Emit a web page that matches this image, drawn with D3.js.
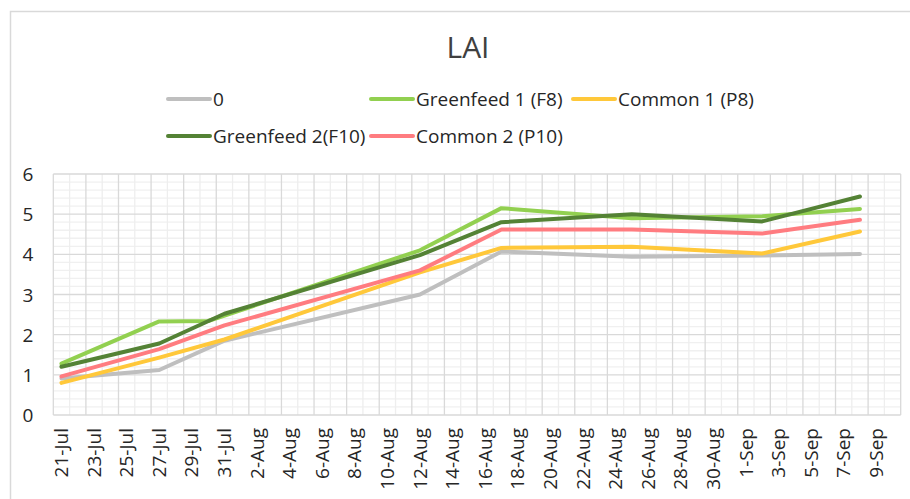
<!DOCTYPE html>
<html>
<head>
<meta charset="utf-8">
<script src="https://cdn.jsdelivr.net/npm/d3@7"></script>
<style>
  body { margin: 0; background: #fff; }
  text { font-family: "Open Sans", sans-serif; }
</style>
</head>
<body>
<div id="canvas"></div>
<script>
const canvas = d3.select("#canvas");

// sampling dates (day-month) and LAI per treatment, null = not measured
const dates = ["21-Jul", "27-Jul", "30-Jul", "31-Jul", "12-Aug", "17-Aug", "25-Aug", "2-Sep", "8-Sep"];
const control    = [0.91, 1.12, null, 1.85, 3.00, 4.07, 3.94, 3.97, 4.01];
const greenfeed1 = [1.28, 2.33, 2.34, null, 4.10, 5.15, 4.90, 4.95, 5.13];
const common1    = [0.80, 1.43, null, 1.88, 3.55, 4.16, 4.19, 4.02, 4.57];
const greenfeed2 = [1.20, 1.78, null, 2.52, 3.98, 4.80, 5.00, 4.82, 5.44];
const common2    = [0.96, 1.64, null, 2.23, 3.60, 4.62, 4.62, 4.52, 4.86];

const seriesNames = ["0", "Greenfeed 1 (F8)", "Common 1 (P8)", "Greenfeed 2(F10)", "Common 2 (P10)"];
const seriesValues = [control, greenfeed1, common1, greenfeed2, common2];
const colors = ["#BFBFBF", "#92D050", "#FFC83A", "#548235", "#FF7C80"];
const yTicks = [0, 1, 2, 3, 4, 5, 6];

const width = 910;
const height = 499;
const margin = { top: 174, left: 53.3, bottom: 84, right: 9.3 };
const iwidth = width - margin.left - margin.right;
const iheight = height - margin.top - margin.bottom;

const svg = canvas.append("svg")
    .attr("width", width)
    .attr("height", height);

// chart border
svg.append("rect")
    .attr("x", 10.5).attr("y", 11.5)
    .attr("width", 1000).attr("height", 1000)
    .attr("fill", "none")
    .attr("stroke", "#d9d9d9")
    .attr("stroke-width", 1.5);

svg.append("text")
    .attr("x", 468)
    .attr("y", 46)
    .attr("text-anchor", "middle")
    .attr("dominant-baseline", "central")
    .style("font-size", "30px")
    .style("fill", "#404040")
    .text("LAI");

// every day from 21-Jul to 10-Sep is one slot on the axis
const fmt = d3.timeFormat("%-d-%b");
const days = d3.timeDay.range(new Date(2020, 6, 21), new Date(2020, 8, 11)).map(fmt);

const x = d3.scaleBand()
    .domain(days)
    .range([0, iwidth])
    .padding(0);

const y = d3.scaleLinear()
    .domain([0, 6])
    .range([iheight, 0]);

const g = svg.append("g").attr("transform", `translate(${margin.left},${margin.top})`);

// minor gridlines
g.append("g").selectAll("line")
    .data(d3.range(0, 6, 0.2).filter(v => Math.abs(v - Math.round(v)) > 0.01))
    .enter().append("line")
    .attr("x1", 0).attr("x2", iwidth)
    .attr("y1", d => y(d)).attr("y2", d => y(d))
    .attr("stroke", "#f0f0f0").attr("stroke-width", 1.3);

g.append("g").selectAll("line")
    .data(d3.range(days.length + 1).filter(i => i % 2 === 1))
    .enter().append("line")
    .attr("x1", i => i * x.step()).attr("x2", i => i * x.step())
    .attr("y1", 0).attr("y2", iheight)
    .attr("stroke", "#eeeeee").attr("stroke-width", 1.3);

// major gridlines
g.append("g").selectAll("line")
    .data(yTicks)
    .enter().append("line")
    .attr("x1", 0).attr("x2", iwidth)
    .attr("y1", d => y(d)).attr("y2", d => y(d))
    .attr("stroke", "#d9d9d9").attr("stroke-width", 1.3);

g.append("g").selectAll("line")
    .data(d3.range(days.length + 1).filter(i => i % 2 === 0))
    .enter().append("line")
    .attr("x1", i => i * x.step()).attr("x2", i => i * x.step())
    .attr("y1", 0).attr("y2", iheight)
    .attr("stroke", "#d9d9d9").attr("stroke-width", 1.3);

// axes
const xAxis = g.append("g")
    .classed("x--axis", true)
    .attr("transform", `translate(0, ${iheight})`)
    .call(d3.axisBottom(x).tickValues(days.filter((d, i) => i % 2 === 0)).tickSize(0));
xAxis.select(".domain").remove();
xAxis.selectAll("text")
    .attr("transform", "rotate(-90)")
    .attr("x", -13)
    .attr("y", 0)
    .attr("dy", "0.35em")
    .attr("text-anchor", "end")
    .style("font-size", "19px")
    .style("font-family", "Open Sans")
    .style("fill", "#262626");

const yAxis = g.append("g")
    .classed("y--axis", true)
    .call(d3.axisLeft(y).tickValues(yTicks).tickFormat(d3.format("d")).tickSize(0).tickPadding(20));
yAxis.select(".domain").remove();
yAxis.selectAll("text")
    .attr("dy", "0.35em")
    .style("font-size", "19px")
    .style("font-family", "Open Sans")
    .style("fill", "#262626");

// lines
const line = d3.line()
    .x(d => x(d.date) + x.bandwidth() / 2)
    .y(d => y(d.v));

seriesValues.forEach((vals, i) => {
    const pts = dates.map((d, j) => ({ date: d, v: vals[j] })).filter(p => p.v !== null);
    g.append("path")
        .datum(pts)
        .attr("d", line)
        .attr("fill", "none")
        .attr("stroke", colors[i])
        .attr("stroke-width", 4)
        .attr("stroke-linejoin", "round")
        .attr("stroke-linecap", "round");
});

// legend
const legendPos = [[168, 99], [371, 99], [573, 99], [168, 136], [371, 136]];
const legend = svg.append("g");
seriesNames.forEach((name, i) => {
    const [lx, ly] = legendPos[i];
    legend.append("line")
        .attr("x1", lx).attr("x2", lx + 42)
        .attr("y1", ly).attr("y2", ly)
        .attr("stroke", colors[i])
        .attr("stroke-width", 4)
        .attr("stroke-linecap", "round");
    legend.append("text")
        .attr("x", lx + 45)
        .attr("y", ly)
        .attr("dy", "0.35em")
        .style("font-size", "19px")
        .style("fill", "#262626")
        .text(name);
});
</script>
</body>
</html>
